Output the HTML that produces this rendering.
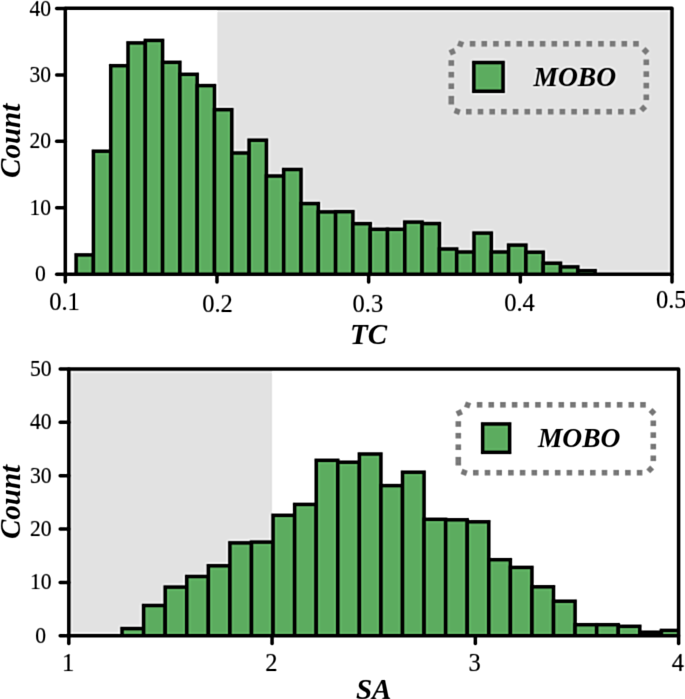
<!DOCTYPE html>
<html><head><meta charset="utf-8"><style>
html,body{margin:0;padding:0;background:#fff;width:685px;height:699px;overflow:hidden}
svg{display:block}
.lab{font-family:"Liberation Serif",serif;font-size:24px;fill:#000;stroke:#000;stroke-width:0.12px}
.tit{font-family:"Liberation Serif",serif;font-size:29px;font-weight:bold;font-style:italic;fill:#000}
.xlab{font-family:"Liberation Serif",serif;font-size:24.5px;fill:#000;stroke:#000;stroke-width:0.12px}
.leg{font-family:"Liberation Serif",serif;font-size:27.5px;font-weight:bold;font-style:italic;fill:#000}
</style></head><body>
<svg width="685" height="699" viewBox="0 0 685 699">
<defs><filter id="bl" filterUnits="userSpaceOnUse" x="-8" y="-8" width="701" height="715" color-interpolation-filters="sRGB"><feConvolveMatrix order="5" kernelMatrix="0.000093 0.001976 0.005483 0.001976 0.000093 0.001976 0.042199 0.117074 0.042199 0.001976 0.005483 0.117074 0.324800 0.117074 0.005483 0.001976 0.042199 0.117074 0.042199 0.001976 0.000093 0.001976 0.005483 0.001976 0.000093" divisor="1" edgeMode="duplicate" preserveAlpha="true" result="b1"/><feConvolveMatrix in="b1" order="5" kernelMatrix="-0.005866 -0.016624 -0.023524 -0.016624 -0.005866 -0.016624 -0.047110 -0.066667 -0.047110 -0.016624 -0.023524 -0.066667 1.705658 -0.066667 -0.023524 -0.016624 -0.047110 -0.066667 -0.047110 -0.016624 -0.005866 -0.016624 -0.023524 -0.016624 -0.005866" divisor="1" edgeMode="duplicate" preserveAlpha="true"/></filter></defs>
<g filter="url(#bl)">
<rect x="-8" y="-8" width="701" height="715" fill="#fff"/>
<rect x="217.3" y="8.2" width="454.7" height="266.1" fill="#e2e2e2"/>
<clipPath id="c8"><rect x="65.3" y="8.2" width="606.7" height="266.1"/></clipPath>
<g clip-path="url(#c8)" fill="#5cac5f" stroke="#000" stroke-width="3.5" stroke-linejoin="miter">
<rect x="76.1" y="254.9" width="17.3" height="22.8"/>
<rect x="93.4" y="151.2" width="17.3" height="126.5"/>
<rect x="110.7" y="65.7" width="17.3" height="212"/>
<rect x="128" y="42.9" width="17.3" height="234.8"/>
<rect x="145.3" y="40.4" width="17.3" height="237.3"/>
<rect x="162.6" y="62.3" width="17.3" height="215.4"/>
<rect x="179.9" y="74.3" width="17.3" height="203.4"/>
<rect x="197.2" y="85.6" width="17.3" height="192.1"/>
<rect x="214.5" y="109.7" width="17.3" height="168"/>
<rect x="231.8" y="153" width="17.3" height="124.7"/>
<rect x="249.1" y="140.2" width="17.3" height="137.5"/>
<rect x="266.4" y="176" width="17.3" height="101.7"/>
<rect x="283.7" y="169.5" width="17.3" height="108.2"/>
<rect x="301" y="203.6" width="17.3" height="74.1"/>
<rect x="318.3" y="211.9" width="17.3" height="65.8"/>
<rect x="335.6" y="211.7" width="17.3" height="66"/>
<rect x="352.9" y="223.7" width="17.3" height="54"/>
<rect x="370.2" y="229.3" width="17.3" height="48.4"/>
<rect x="387.5" y="229.3" width="17.3" height="48.4"/>
<rect x="404.8" y="222.1" width="17.3" height="55.6"/>
<rect x="422.1" y="223.6" width="17.3" height="54.1"/>
<rect x="439.4" y="249" width="17.3" height="28.7"/>
<rect x="456.7" y="252" width="17.3" height="25.7"/>
<rect x="474" y="233.1" width="17.3" height="44.6"/>
<rect x="491.3" y="252" width="17.3" height="25.7"/>
<rect x="508.6" y="245.1" width="17.3" height="32.6"/>
<rect x="525.9" y="252.2" width="17.3" height="25.5"/>
<rect x="543.2" y="263.2" width="17.3" height="14.5"/>
<rect x="560.5" y="266.9" width="17.3" height="10.8"/>
<rect x="577.8" y="270.7" width="17.3" height="7"/>
</g>
<rect x="65.3" y="8.2" width="606.7" height="266.1" fill="none" stroke="#000" stroke-width="3.5" stroke-linejoin="round"/>
<line x1="56.7" y1="274.3" x2="65.3" y2="274.3" stroke="#000" stroke-width="3.5" stroke-linecap="round"/>
<text transform="translate(40.3 281.4) scale(0.9 1)" text-anchor="middle" class="lab">0</text>
<line x1="56.7" y1="207.83" x2="65.3" y2="207.83" stroke="#000" stroke-width="3.5" stroke-linecap="round"/>
<text transform="translate(40.3 214.93) scale(0.9 1)" text-anchor="middle" class="lab">10</text>
<line x1="56.7" y1="141.35" x2="65.3" y2="141.35" stroke="#000" stroke-width="3.5" stroke-linecap="round"/>
<text transform="translate(40.3 148.45) scale(0.9 1)" text-anchor="middle" class="lab">20</text>
<line x1="56.7" y1="74.88" x2="65.3" y2="74.88" stroke="#000" stroke-width="3.5" stroke-linecap="round"/>
<text transform="translate(40.3 81.98) scale(0.9 1)" text-anchor="middle" class="lab">30</text>
<line x1="56.7" y1="8.4" x2="65.3" y2="8.4" stroke="#000" stroke-width="3.5" stroke-linecap="round"/>
<text transform="translate(40.3 15.5) scale(0.9 1)" text-anchor="middle" class="lab">40</text>
<line x1="65.3" y1="274.3" x2="65.3" y2="282.1" stroke="#000" stroke-width="3.5" stroke-linecap="round"/>
<text x="64.5" y="310.1" text-anchor="middle" class="xlab">0.1</text>
<line x1="216.98" y1="274.3" x2="216.98" y2="282.1" stroke="#000" stroke-width="3.5" stroke-linecap="round"/>
<text x="217.48" y="312.3" text-anchor="middle" class="xlab">0.2</text>
<line x1="368.65" y1="274.3" x2="368.65" y2="282.1" stroke="#000" stroke-width="3.5" stroke-linecap="round"/>
<text x="367.85" y="311.5" text-anchor="middle" class="xlab">0.3</text>
<line x1="520.33" y1="274.3" x2="520.33" y2="282.1" stroke="#000" stroke-width="3.5" stroke-linecap="round"/>
<text x="519.53" y="310.8" text-anchor="middle" class="xlab">0.4</text>
<line x1="672" y1="274.3" x2="672" y2="282.1" stroke="#000" stroke-width="3.5" stroke-linecap="round"/>
<text x="671.2" y="308.1" text-anchor="middle" class="xlab">0.5</text>
<text x="368.65" y="343.5" text-anchor="middle" class="tit">TC</text>
<text transform="translate(20.3 140.8) rotate(-90)" x="0" y="0" text-anchor="middle" class="tit">Count</text>
<g fill="#7f7f7f" transform="translate(0 0)">
<rect x="469.8" y="41" width="5.6" height="5.6"/>
<rect x="481.47" y="41" width="5.6" height="5.6"/>
<rect x="493.14" y="41" width="5.6" height="5.6"/>
<rect x="504.81" y="41" width="5.6" height="5.6"/>
<rect x="516.48" y="41" width="5.6" height="5.6"/>
<rect x="528.15" y="41" width="5.6" height="5.6"/>
<rect x="539.82" y="41" width="5.6" height="5.6"/>
<rect x="551.49" y="41" width="5.6" height="5.6"/>
<rect x="563.16" y="41" width="5.6" height="5.6"/>
<rect x="574.83" y="41" width="5.6" height="5.6"/>
<rect x="586.5" y="41" width="5.6" height="5.6"/>
<rect x="598.17" y="41" width="5.6" height="5.6"/>
<rect x="609.84" y="41" width="5.6" height="5.6"/>
<rect x="621.51" y="41" width="5.6" height="5.6"/>
<rect x="633.18" y="41" width="5.6" height="5.6"/>
<rect x="466" y="108.9" width="5.6" height="5.6"/>
<rect x="477.7" y="108.9" width="5.6" height="5.6"/>
<rect x="489.4" y="108.9" width="5.6" height="5.6"/>
<rect x="501.1" y="108.9" width="5.6" height="5.6"/>
<rect x="512.8" y="108.9" width="5.6" height="5.6"/>
<rect x="524.5" y="108.9" width="5.6" height="5.6"/>
<rect x="536.2" y="108.9" width="5.6" height="5.6"/>
<rect x="547.9" y="108.9" width="5.6" height="5.6"/>
<rect x="559.6" y="108.9" width="5.6" height="5.6"/>
<rect x="571.3" y="108.9" width="5.6" height="5.6"/>
<rect x="583" y="108.9" width="5.6" height="5.6"/>
<rect x="594.7" y="108.9" width="5.6" height="5.6"/>
<rect x="606.4" y="108.9" width="5.6" height="5.6"/>
<rect x="618.1" y="108.9" width="5.6" height="5.6"/>
<rect x="629.8" y="108.9" width="5.6" height="5.6"/>
<rect x="448.5" y="60.2" width="5.6" height="5.6"/>
<rect x="448.5" y="71.9" width="5.6" height="5.6"/>
<rect x="448.5" y="83.4" width="5.6" height="5.6"/>
<rect x="643.5" y="59.5" width="5.6" height="5.6"/>
<rect x="643.5" y="71.3" width="5.6" height="5.6"/>
<rect x="643.5" y="82.8" width="5.6" height="5.6"/>
<rect x="643.5" y="94.5" width="5.6" height="5.6"/>
<rect x="457.8" y="41.2" width="5.6" height="5.6" transform="rotate(20 460.6 44)"/>
<rect x="449.5" y="49" width="5.6" height="5.6" transform="rotate(65 452.3 51.8)"/>
<rect x="642.7" y="48.2" width="5.6" height="5.6" transform="rotate(45 645.5 51)"/>
<rect x="640.4" y="105.6" width="5.6" height="5.6" transform="rotate(45 643.2 108.4)"/>
<rect x="454.4" y="108.5" width="5.6" height="5.6" transform="rotate(20 457.2 111.3)"/>
<rect x="448.5" y="95.9" width="5.6" height="8.6"/>
</g>
<rect x="473.85" y="62.55" width="29.2" height="28.7" fill="#5cac5f" stroke="#000" stroke-width="3.5"/>
<text x="533.5" y="85.6" class="leg">MOBO</text>
<rect x="68.8" y="369" width="203.3" height="266.8" fill="#e2e2e2"/>
<clipPath id="c369"><rect x="68.8" y="369" width="609.8" height="266.8"/></clipPath>
<g clip-path="url(#c369)" fill="#5cac5f" stroke="#000" stroke-width="3.5" stroke-linejoin="miter">
<rect x="122.05" y="628.6" width="21.57" height="10.6"/>
<rect x="143.62" y="605.5" width="21.57" height="33.7"/>
<rect x="165.2" y="587.1" width="21.57" height="52.1"/>
<rect x="186.77" y="576.5" width="21.57" height="62.7"/>
<rect x="208.35" y="565.8" width="21.57" height="73.4"/>
<rect x="229.92" y="542.9" width="21.57" height="96.3"/>
<rect x="251.49" y="542.1" width="21.57" height="97.1"/>
<rect x="273.07" y="515.3" width="21.57" height="123.9"/>
<rect x="294.64" y="504.4" width="21.57" height="134.8"/>
<rect x="316.22" y="460.3" width="21.57" height="178.9"/>
<rect x="337.79" y="462.2" width="21.57" height="177"/>
<rect x="359.36" y="454" width="21.57" height="185.2"/>
<rect x="380.94" y="485.6" width="21.57" height="153.6"/>
<rect x="402.51" y="472.2" width="21.57" height="167"/>
<rect x="424.09" y="519.3" width="21.57" height="119.9"/>
<rect x="445.66" y="519.8" width="21.57" height="119.4"/>
<rect x="467.23" y="521.8" width="21.57" height="117.4"/>
<rect x="488.81" y="559.7" width="21.57" height="79.5"/>
<rect x="510.38" y="567.4" width="21.57" height="71.8"/>
<rect x="531.96" y="586.8" width="21.57" height="52.4"/>
<rect x="553.53" y="601.2" width="21.57" height="38"/>
<rect x="575.1" y="624.7" width="21.57" height="14.5"/>
<rect x="596.68" y="624.7" width="21.57" height="14.5"/>
<rect x="618.25" y="626.3" width="21.57" height="12.9"/>
<rect x="639.83" y="632.2" width="21.57" height="7"/>
<rect x="661.4" y="630.4" width="21.57" height="8.8"/>
</g>
<rect x="68.8" y="369" width="609.8" height="266.8" fill="none" stroke="#000" stroke-width="3.5" stroke-linejoin="round"/>
<line x1="60.2" y1="635.8" x2="68.8" y2="635.8" stroke="#000" stroke-width="3.5" stroke-linecap="round"/>
<text transform="translate(40.7 642.8) scale(0.9 1)" text-anchor="middle" class="lab">0</text>
<line x1="60.2" y1="582.44" x2="68.8" y2="582.44" stroke="#000" stroke-width="3.5" stroke-linecap="round"/>
<text transform="translate(40.7 589.44) scale(0.9 1)" text-anchor="middle" class="lab">10</text>
<line x1="60.2" y1="529.08" x2="68.8" y2="529.08" stroke="#000" stroke-width="3.5" stroke-linecap="round"/>
<text transform="translate(40.7 536.08) scale(0.9 1)" text-anchor="middle" class="lab">20</text>
<line x1="60.2" y1="475.72" x2="68.8" y2="475.72" stroke="#000" stroke-width="3.5" stroke-linecap="round"/>
<text transform="translate(40.7 482.72) scale(0.9 1)" text-anchor="middle" class="lab">30</text>
<line x1="60.2" y1="422.36" x2="68.8" y2="422.36" stroke="#000" stroke-width="3.5" stroke-linecap="round"/>
<text transform="translate(40.7 429.36) scale(0.9 1)" text-anchor="middle" class="lab">40</text>
<line x1="60.2" y1="369" x2="68.8" y2="369" stroke="#000" stroke-width="3.5" stroke-linecap="round"/>
<text transform="translate(40.7 376) scale(0.9 1)" text-anchor="middle" class="lab">50</text>
<line x1="68.8" y1="635.8" x2="68.8" y2="643.6" stroke="#000" stroke-width="3.5" stroke-linecap="round"/>
<text x="68" y="671" text-anchor="middle" class="xlab">1</text>
<line x1="272.07" y1="635.8" x2="272.07" y2="643.6" stroke="#000" stroke-width="3.5" stroke-linecap="round"/>
<text x="271.27" y="671" text-anchor="middle" class="xlab">2</text>
<line x1="475.34" y1="635.8" x2="475.34" y2="643.6" stroke="#000" stroke-width="3.5" stroke-linecap="round"/>
<text x="474.54" y="671" text-anchor="middle" class="xlab">3</text>
<line x1="678.61" y1="635.8" x2="678.61" y2="643.6" stroke="#000" stroke-width="3.5" stroke-linecap="round"/>
<text x="677.81" y="671" text-anchor="middle" class="xlab">4</text>
<text x="373.7" y="698.6" text-anchor="middle" class="tit">SA</text>
<text transform="translate(20.3 502) rotate(-90)" x="0" y="0" text-anchor="middle" class="tit">Count</text>
<g fill="#7f7f7f" transform="translate(7 361)">
<rect x="469.8" y="41" width="5.6" height="5.6"/>
<rect x="481.47" y="41" width="5.6" height="5.6"/>
<rect x="493.14" y="41" width="5.6" height="5.6"/>
<rect x="504.81" y="41" width="5.6" height="5.6"/>
<rect x="516.48" y="41" width="5.6" height="5.6"/>
<rect x="528.15" y="41" width="5.6" height="5.6"/>
<rect x="539.82" y="41" width="5.6" height="5.6"/>
<rect x="551.49" y="41" width="5.6" height="5.6"/>
<rect x="563.16" y="41" width="5.6" height="5.6"/>
<rect x="574.83" y="41" width="5.6" height="5.6"/>
<rect x="586.5" y="41" width="5.6" height="5.6"/>
<rect x="598.17" y="41" width="5.6" height="5.6"/>
<rect x="609.84" y="41" width="5.6" height="5.6"/>
<rect x="621.51" y="41" width="5.6" height="5.6"/>
<rect x="633.18" y="41" width="5.6" height="5.6"/>
<rect x="466" y="108.9" width="5.6" height="5.6"/>
<rect x="477.7" y="108.9" width="5.6" height="5.6"/>
<rect x="489.4" y="108.9" width="5.6" height="5.6"/>
<rect x="501.1" y="108.9" width="5.6" height="5.6"/>
<rect x="512.8" y="108.9" width="5.6" height="5.6"/>
<rect x="524.5" y="108.9" width="5.6" height="5.6"/>
<rect x="536.2" y="108.9" width="5.6" height="5.6"/>
<rect x="547.9" y="108.9" width="5.6" height="5.6"/>
<rect x="559.6" y="108.9" width="5.6" height="5.6"/>
<rect x="571.3" y="108.9" width="5.6" height="5.6"/>
<rect x="583" y="108.9" width="5.6" height="5.6"/>
<rect x="594.7" y="108.9" width="5.6" height="5.6"/>
<rect x="606.4" y="108.9" width="5.6" height="5.6"/>
<rect x="618.1" y="108.9" width="5.6" height="5.6"/>
<rect x="629.8" y="108.9" width="5.6" height="5.6"/>
<rect x="448.5" y="60.2" width="5.6" height="5.6"/>
<rect x="448.5" y="71.9" width="5.6" height="5.6"/>
<rect x="448.5" y="83.4" width="5.6" height="5.6"/>
<rect x="643.5" y="59.5" width="5.6" height="5.6"/>
<rect x="643.5" y="71.3" width="5.6" height="5.6"/>
<rect x="643.5" y="82.8" width="5.6" height="5.6"/>
<rect x="643.5" y="94.5" width="5.6" height="5.6"/>
<rect x="457.8" y="41.2" width="5.6" height="5.6" transform="rotate(20 460.6 44)"/>
<rect x="449.5" y="49" width="5.6" height="5.6" transform="rotate(65 452.3 51.8)"/>
<rect x="642.7" y="48.2" width="5.6" height="5.6" transform="rotate(45 645.5 51)"/>
<rect x="640.4" y="105.6" width="5.6" height="5.6" transform="rotate(45 643.2 108.4)"/>
<rect x="454.4" y="108.5" width="5.6" height="5.6" transform="rotate(20 457.2 111.3)"/>
<rect x="448.5" y="95.9" width="5.6" height="8.6"/>
</g>
<rect x="482.65" y="423.95" width="27" height="28.4" fill="#5cac5f" stroke="#000" stroke-width="3.5"/>
<text x="537.9" y="447.4" class="leg">MOBO</text>
</g></svg>
</body></html>
